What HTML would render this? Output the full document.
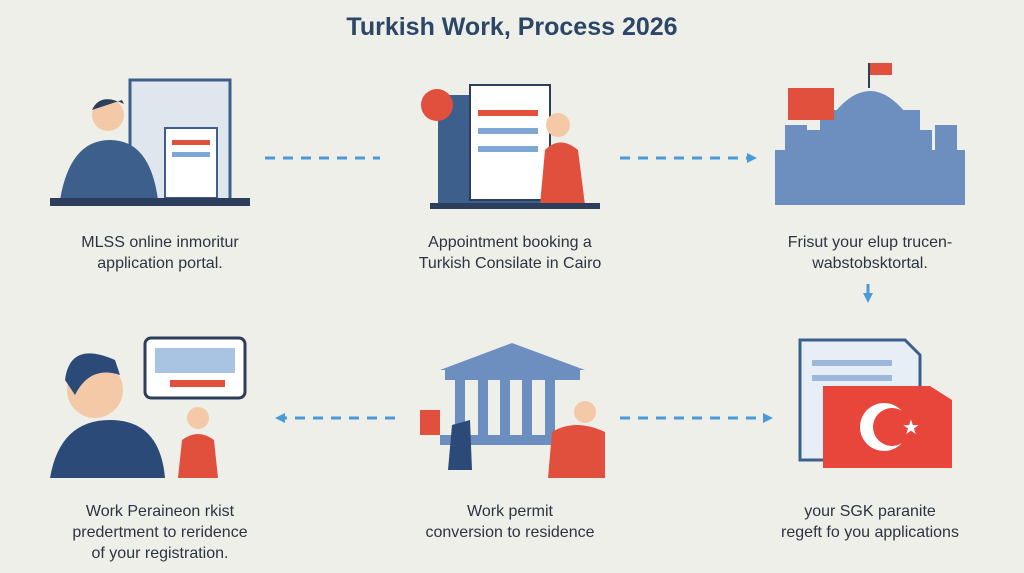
<!DOCTYPE html>
<html><head><meta charset="utf-8"><style>
body{margin:0;width:1024px;height:573px;background:#efefea;font-family:"Liberation Sans",sans-serif;position:relative;overflow:hidden}
.t{position:absolute;text-align:center;color:#2b3440;font-size:16px;line-height:21px}
h1{position:absolute;top:13px;left:0;width:1024px;text-align:center;margin:0;font-size:25px;color:#2c4667;font-weight:bold}
svg{position:absolute;left:0;top:0}
</style></head><body>
<h1>Turkish Work, Process 2026</h1>
<svg width="1024" height="573">
<defs><marker id="a" markerUnits="userSpaceOnUse" markerWidth="10" markerHeight="10" refX="5" refY="5" orient="auto"><path d="M0,0L10,5L0,10z" fill="#4a9ad8"/></marker></defs>
<g stroke="#4a9ad8" stroke-width="3" stroke-dasharray="10,8" fill="none">
<line x1="265" y1="158" x2="380" y2="158"/>
<line x1="620" y1="158" x2="752" y2="158" marker-end="url(#a)"/>
<line x1="868" y1="284" x2="868" y2="298" marker-end="url(#a)"/>
<line x1="395" y1="418" x2="280" y2="418" marker-end="url(#a)"/>
<line x1="620" y1="418" x2="768" y2="418" marker-end="url(#a)"/>
</g>
<!-- panel 1 -->
<rect x="130" y="80" width="100" height="120" fill="#dfe6ee" stroke="#3c5f8c" stroke-width="3"/>
<rect x="165" y="128" width="52" height="70" fill="#fff" stroke="#3c5f8c" stroke-width="2"/>
<rect x="172" y="140" width="38" height="5" fill="#e0503c"/><rect x="172" y="152" width="38" height="5" fill="#7fa7d6"/>
<path d="M60 200 Q70 140 110 140 Q150 140 158 200z" fill="#3c5f8c"/>
<circle cx="108" cy="115" r="16" fill="#f3c9a8"/><path d="M92 110 Q100 92 124 104 L122 100" fill="#2c3e5c"/>
<rect x="50" y="198" width="200" height="8" fill="#2c3e5c"/>
<!-- panel 2 -->
<rect x="438" y="95" width="110" height="110" fill="#3c5f8c"/>
<rect x="470" y="85" width="80" height="115" fill="#fff" stroke="#2c3e5c" stroke-width="2"/>
<rect x="478" y="110" width="60" height="6" fill="#e0503c"/><rect x="478" y="128" width="60" height="6" fill="#7fa7d6"/><rect x="478" y="146" width="60" height="6" fill="#7fa7d6"/>
<circle cx="437" cy="105" r="16" fill="#e0503c"/>
<path d="M540 205 L545 150 Q560 135 578 150 L585 205z" fill="#e0503c"/><circle cx="558" cy="125" r="12" fill="#f3c9a8"/>
<rect x="430" y="203" width="170" height="6" fill="#2c3e5c"/>
<!-- panel 3 -->
<g fill="#6d8fc0"><rect x="775" y="150" width="190" height="55"/><rect x="820" y="110" width="100" height="45"/><path d="M835 112 Q870 70 905 112z"/><rect x="785" y="125" width="22" height="30"/><rect x="935" y="125" width="22" height="30"/><rect x="805" y="130" width="20" height="25"/><rect x="912" y="130" width="20" height="25"/></g>
<rect x="788" y="88" width="46" height="32" fill="#e0503c"/>
<rect x="868" y="63" width="2" height="25" fill="#2c3e5c"/><rect x="870" y="63" width="22" height="12" fill="#e0503c"/>
<!-- panel 4 -->
<rect x="145" y="338" width="100" height="60" rx="6" fill="#fff" stroke="#2c3e5c" stroke-width="3"/>
<rect x="155" y="348" width="80" height="25" fill="#a9c3e3"/><rect x="170" y="380" width="55" height="7" fill="#e0503c"/>
<path d="M50 478 Q60 420 110 420 Q160 420 165 478z" fill="#2c4a78"/>
<circle cx="95" cy="390" r="28" fill="#f3c9a8"/><path d="M65 380 Q70 340 115 360 L120 375 Q90 365 75 395z" fill="#2c4a78"/>
<path d="M178 478 L182 440 Q198 428 214 440 L218 478z" fill="#e0503c"/><circle cx="198" cy="418" r="11" fill="#f3c9a8"/>
<!-- panel 5 -->
<g fill="#6d8fc0"><path d="M440 370 L512 343 L585 370z"/><rect x="445" y="370" width="135" height="10"/><rect x="455" y="380" width="10" height="55"/><rect x="478" y="380" width="10" height="55"/><rect x="500" y="380" width="10" height="55"/><rect x="522" y="380" width="10" height="55"/><rect x="545" y="380" width="10" height="55"/><rect x="440" y="435" width="145" height="10"/></g>
<rect x="420" y="410" width="20" height="25" fill="#e0503c"/>
<path d="M548 478 L552 432 Q575 418 605 432 L605 478z" fill="#e0503c"/><circle cx="585" cy="412" r="11" fill="#f3c9a8"/>
<path d="M448 470 L452 425 L470 420 L472 470z" fill="#2c4a78"/>
<!-- panel 6 -->
<path d="M800 340 L905 340 L920 355 L920 460 L800 460z" fill="#e8eef6" stroke="#3c5f8c" stroke-width="3"/>
<rect x="812" y="360" width="80" height="6" fill="#9db7da"/><rect x="812" y="375" width="80" height="6" fill="#9db7da"/>
<path d="M823 386 L930 386 L952 400 L952 468 L823 468z" fill="#e8463a"/>
<circle cx="884" cy="427" r="24" fill="#fff"/><circle cx="892" cy="427" r="19" fill="#e8463a"/>
<text x="902" y="434" font-size="20" fill="#fff" font-family="DejaVu Sans">★</text>
</svg>
<div class="t" style="left:20px;top:232px;width:280px">MLSS online inmoritur<br>application portal.</div>
<div class="t" style="left:370px;top:232px;width:280px">Appointment booking a<br>Turkish Consilate in Cairo</div>
<div class="t" style="left:730px;top:232px;width:280px">Frisut your elup trucen-<br>wabstobsktortal.</div>
<div class="t" style="left:10px;top:501px;width:300px">Work Perainеon rkist<br>predertment to reridence<br>of your registration.</div>
<div class="t" style="left:370px;top:501px;width:280px">Work permit<br>conversion to residence</div>
<div class="t" style="left:730px;top:501px;width:280px">your SGK paranite<br>regeft fo you applications</div>
</body></html>
